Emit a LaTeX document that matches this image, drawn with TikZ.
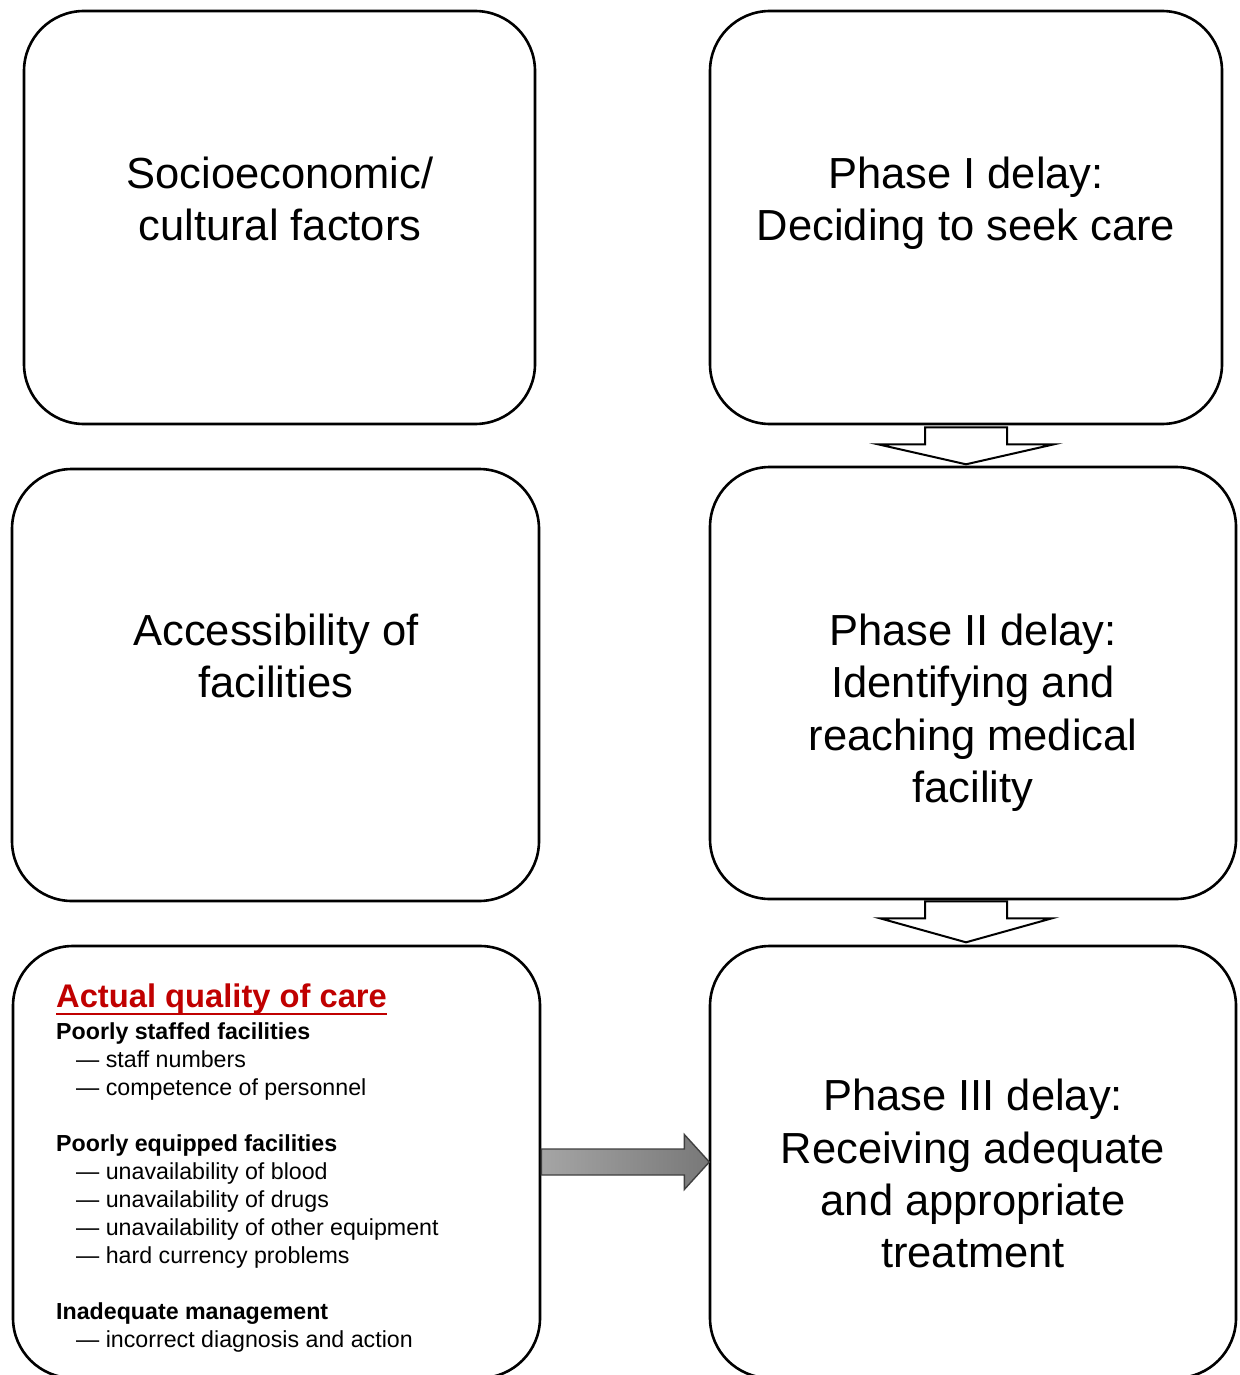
\documentclass[tikz,border=0pt]{standalone}
\usepackage{fontspec}
\setmainfont{Liberation Sans}
\usetikzlibrary{calc}
\definecolor{titlered}{RGB}{192,0,0}
\definecolor{arrowedge}{RGB}{64,64,64}
\definecolor{arrowleft}{RGB}{165,165,165}
\definecolor{arrowright}{RGB}{120,120,120}
\tikzset{
  roundbox/.style={draw=black, line width=2.6pt, rounded corners=60pt, rectangle, inner sep=0pt, fill=white},
  bigtext/.style={anchor=north, align=center, inner sep=0pt, font=\fontsize{43.5}{52.4}\selectfont},
  blockdown/.style={draw=black, line width=2pt, fill=white, line join=miter},
  blockright/.style={draw=arrowedge, line width=1.4pt, left color=arrowleft, right color=arrowright},
  listtext/.style={anchor=north west, align=left, inner sep=0pt, font=\fontsize{23.2}{28}\selectfont},
}
\newcommand{\firststrut}[1]{\rule{0pt}{#1}}
\begin{document}
\begin{tikzpicture}[x=1pt,y=-1pt]
\useasboundingbox (0,0) rectangle (1239,1375);
\clip (0,0) rectangle (1239,1375);
\fill[white] (0,0) rectangle (1239,1375);

% boxes
\node[roundbox, minimum width=511pt, minimum height=413pt] (b1) at (279.5,217.5) {};
\node[roundbox, minimum width=512pt, minimum height=413pt] (b2) at (966,217.5) {};
\node[roundbox, minimum width=527pt, minimum height=432pt] (b3) at (275.5,685) {};
\node[roundbox, minimum width=526pt, minimum height=432pt] (b4) at (973,683) {};
\node[roundbox, minimum width=527pt, minimum height=432pt] (b5) at (276.5,1162) {};
\node[roundbox, minimum width=526pt, minimum height=432pt] (b6) at (973,1162) {};

% texts of the boxes
\node[bigtext] (t1) at (280,148) {\firststrut{40pt}Socioeconomic/\\cultural factors};
\node[bigtext] (t2) at (966,148) {\firststrut{40pt}Phase I delay:\\Deciding to seek care};
\node[bigtext] (t3) at (276,605) {\firststrut{40pt}Accessibility of\\facilities};
\node[bigtext] (t4) at (973,605) {\firststrut{40pt}Phase II delay:\\Identifying and\\reaching medical\\facility};
\node[bigtext] (t6) at (973,1070.5) {\firststrut{40pt}Phase III delay:\\Receiving adequate\\and appropriate\\treatment};

% quality of care box
\node[anchor=base west, inner sep=0pt, text=titlered, font=\fontsize{32.7}{38}\selectfont\bfseries] (q0) at (56,1007.5) {Actual quality of care};
\draw[titlered, line width=2.5pt] ([yshift=-6.5pt]q0.base west) -- ([yshift=-6.5pt]q0.base east);
\node[listtext] (q1) at (56,1019) {\firststrut{20pt}\textbf{Poorly staffed facilities}\\
\hspace*{20pt}— staff numbers\\
\hspace*{20pt}— competence of personnel\\[28pt]
\textbf{Poorly equipped facilities}\\
\hspace*{20pt}— unavailability of blood\\
\hspace*{20pt}— unavailability of drugs\\
\hspace*{20pt}— unavailability of other equipment\\
\hspace*{20pt}— hard currency problems\\[28pt]
\textbf{Inadequate management}\\
\hspace*{20pt}— incorrect diagnosis and action};

% block arrow from phase I to phase II
\coordinate (s1) at (b2.south);
\draw[blockdown] ($(s1)+(-41,2)$) -- ($(s1)+(-41,19)$) -- ($(s1)+(-88,19)$) -- ($(s1)+(0,39)$)
  -- ($(s1)+(88,19)$) -- ($(s1)+(41,19)$) -- ($(s1)+(41,2)$) -- cycle;

% block arrow from phase II to phase III
\coordinate (s2) at (b2.south |- b4.south);
\draw[blockdown] ($(s2)+(-41,1)$) -- ($(s2)+(-41,18)$) -- ($(s2)+(-86,18)$) -- ($(s2)+(0,42)$)
  -- ($(s2)+(86,18)$) -- ($(s2)+(41,18)$) -- ($(s2)+(41,1)$) -- cycle;

% block arrow from quality of care to phase III
\coordinate (e5) at (b5.east);
\draw[blockright] ($(e5)+(0,-13)$) -- ($(e5)+(143,-13)$) -- ($(e5)+(143,-27.5)$) -- ($(e5)+(168,0)$)
  -- ($(e5)+(143,27.5)$) -- ($(e5)+(143,13)$) -- ($(e5)+(0,13)$) -- cycle;
\end{tikzpicture}
\end{document}
